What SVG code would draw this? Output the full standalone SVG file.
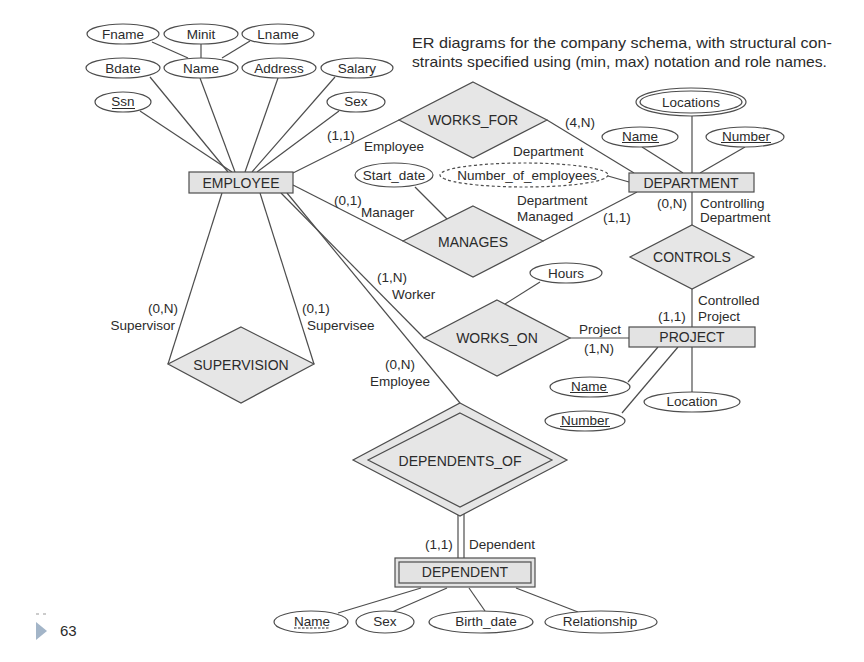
<svg xmlns="http://www.w3.org/2000/svg" width="864" height="662" viewBox="0 0 864 662">
<style>
.bg{fill:#ffffff}
.ln{stroke:#4d4d4d;stroke-width:1.2;fill:none}
.att{fill:#ffffff;stroke:#4d4d4d;stroke-width:1.2}
.ent{fill:#e3e3e3;stroke:#4d4d4d;stroke-width:1.2}
.rel{fill:#e6e6e6;stroke:#4d4d4d;stroke-width:1.2}
.ul{stroke:#2b2b2b;stroke-width:1}
text{font-family:"Liberation Sans",Arial,sans-serif;fill:#2b2b2b;dominant-baseline:central}
.t{font-size:13.5px;text-anchor:middle}
.n{font-size:14px;text-anchor:middle}
.l{font-size:13.5px;text-anchor:start}
.r{font-size:13.5px;text-anchor:end}
.h{font-size:15px;text-anchor:start}
</style>
<rect class="bg" x="0" y="0" width="864" height="662"/>

<g id="connectors">
<line class="ln" x1="152" y1="42" x2="188" y2="58"/>
<line class="ln" x1="201" y1="44" x2="201" y2="58"/>
<line class="ln" x1="250" y1="41" x2="222" y2="58"/>
<line class="ln" x1="150" y1="77" x2="228" y2="172"/>
<line class="ln" x1="200" y1="78" x2="235" y2="172"/>
<line class="ln" x1="278" y1="78" x2="245" y2="172"/>
<line class="ln" x1="335" y1="77" x2="252" y2="172"/>
<line class="ln" x1="140" y1="111" x2="232" y2="172"/>
<line class="ln" x1="339" y1="111" x2="257" y2="172"/>
<line class="ln" x1="293" y1="173" x2="399" y2="120"/>
<line class="ln" x1="547" y1="120" x2="634" y2="173"/>
<line class="ln" x1="293" y1="185" x2="403" y2="241"/>
<line class="ln" x1="543" y1="241" x2="637" y2="192"/>
<line class="ln" x1="415" y1="187" x2="447" y2="219"/>
<line class="ln" x1="608" y1="176" x2="629" y2="182"/>
<line class="ln" x1="692" y1="116" x2="692" y2="173"/>
<line class="ln" x1="642" y1="147" x2="683" y2="173"/>
<line class="ln" x1="745" y1="147" x2="700" y2="173"/>
<line class="ln" x1="692" y1="192" x2="692" y2="225"/>
<line class="ln" x1="692" y1="289" x2="692" y2="327"/>
<line class="ln" x1="540" y1="282" x2="505" y2="304"/>
<line class="ln" x1="570" y1="338" x2="629" y2="338"/>
<line class="ln" x1="281" y1="193" x2="424" y2="338"/>
<line class="ln" x1="222" y1="193" x2="168" y2="364"/>
<line class="ln" x1="260" y1="193" x2="314" y2="364"/>
<line class="ln" x1="287" y1="193" x2="460" y2="403"/>
<line class="ln" x1="458" y1="514" x2="458" y2="558"/>
<line class="ln" x1="464" y1="514" x2="464" y2="558"/>
<line class="ln" x1="628" y1="382" x2="658" y2="347"/>
<line class="ln" x1="622" y1="413" x2="678" y2="347"/>
<line class="ln" x1="692" y1="347" x2="692" y2="392"/>
<line class="ln" x1="421" y1="588" x2="338" y2="613"/>
<line class="ln" x1="447" y1="588" x2="392" y2="612"/>
<line class="ln" x1="469" y1="588" x2="485" y2="611"/>
<line class="ln" x1="516" y1="588" x2="578" y2="612"/>
</g>

<g id="caption">
<text class="h" x="412" y="42" textLength="420" lengthAdjust="spacingAndGlyphs">ER diagrams for the company schema, with structural con-</text>
<text class="h" x="412" y="61" textLength="415" lengthAdjust="spacingAndGlyphs">straints specified using (min, max) notation and role names.</text>
</g>

<g id="EMPLOYEE">
<rect class="ent" x="189" y="172" width="104" height="21"/>
<text class="n" x="241" y="183">EMPLOYEE</text>
</g>
<g id="Fname"><ellipse class="att" cx="123" cy="34" rx="36" ry="10"/><text class="t" x="123" y="34">Fname</text></g>
<g id="Minit"><ellipse class="att" cx="201" cy="34" rx="37" ry="10"/><text class="t" x="201" y="34">Minit</text></g>
<g id="Lname"><ellipse class="att" cx="278" cy="34" rx="36" ry="10"/><text class="t" x="278" y="34">Lname</text></g>
<g id="Bdate"><ellipse class="att" cx="123" cy="68" rx="37" ry="10"/><text class="t" x="123" y="68">Bdate</text></g>
<g id="EName"><ellipse class="att" cx="201" cy="68" rx="37" ry="10"/><text class="t" x="201" y="68">Name</text></g>
<g id="Address"><ellipse class="att" cx="279" cy="68" rx="37" ry="10"/><text class="t" x="279" y="68">Address</text></g>
<g id="Salary"><ellipse class="att" cx="357" cy="68" rx="36" ry="10"/><text class="t" x="357" y="68">Salary</text></g>
<g id="Ssn"><ellipse class="att" cx="123" cy="102" rx="28" ry="10"/><text class="t" x="123" y="101">Ssn</text><line class="ul" x1="112" y1="108.5" x2="135" y2="108.5"/></g>
<g id="ESex"><ellipse class="att" cx="356" cy="102" rx="29" ry="10"/><text class="t" x="356" y="101">Sex</text></g>

<g id="WORKS_FOR">
<polygon class="rel" points="473,82 547,120 473,158 399,120"/>
<text class="n" x="473" y="120">WORKS_FOR</text>
</g>
<g id="Start_date"><ellipse class="att" cx="394" cy="175" rx="39" ry="12"/><text class="t" x="394" y="175">Start_date</text></g>
<g id="Number_of_employees"><ellipse class="att" cx="524" cy="175" rx="84" ry="12" stroke-dasharray="3,2.5"/><text class="t" x="527" y="175">Number_of_employees</text></g>
<g id="MANAGES">
<polygon class="rel" points="473,206 543,241 473,277 403,241"/>
<text class="n" x="473" y="242">MANAGES</text>
</g>

<g id="DEPARTMENT">
<rect class="ent" x="629" y="173" width="125" height="19"/>
<text class="n" x="691" y="183">DEPARTMENT</text>
</g>
<g id="Locations"><ellipse class="att" cx="691" cy="102" rx="55" ry="14"/><ellipse class="att" cx="691" cy="102" rx="51" ry="11"/><text class="t" x="691" y="102">Locations</text></g>
<g id="DName"><ellipse class="att" cx="640" cy="137" rx="38" ry="10"/><text class="t" x="640" y="136">Name</text><line class="ul" x1="622" y1="142.5" x2="659" y2="142.5"/></g>
<g id="DNumber"><ellipse class="att" cx="745" cy="137" rx="39" ry="10"/><text class="t" x="746" y="136">Number</text><line class="ul" x1="721" y1="142.5" x2="771" y2="142.5"/></g>

<g id="CONTROLS">
<polygon class="rel" points="692,225 754,257 692,289 630,257"/>
<text class="n" x="692" y="257">CONTROLS</text>
</g>

<g id="PROJECT">
<rect class="ent" x="629" y="327" width="126" height="20"/>
<text class="n" x="692" y="337">PROJECT</text>
</g>
<g id="PName"><ellipse class="att" cx="590" cy="387" rx="40" ry="10"/><text class="t" x="589" y="386">Name</text><line class="ul" x1="570" y1="392.5" x2="608" y2="392.5"/></g>
<g id="PNumber"><ellipse class="att" cx="585" cy="421" rx="40" ry="10"/><text class="t" x="585" y="420">Number</text><line class="ul" x1="560" y1="426.5" x2="610" y2="426.5"/></g>
<g id="Location"><ellipse class="att" cx="692" cy="402" rx="48" ry="10"/><text class="t" x="692" y="401">Location</text></g>

<g id="WORKS_ON">
<polygon class="rel" points="497,300 570,338 497,376 424,338"/>
<text class="n" x="497" y="338">WORKS_ON</text>
</g>
<g id="Hours"><ellipse class="att" cx="566" cy="273" rx="36" ry="10"/><text class="t" x="566" y="273">Hours</text></g>

<g id="SUPERVISION">
<polygon class="rel" points="241,327 314,364 241,403 168,364"/>
<text class="n" x="241" y="365">SUPERVISION</text>
</g>

<g id="DEPENDENTS_OF">
<polygon class="rel" points="460,403 567,460 460,516 353,460"/>
<polygon class="rel" points="460,413 552,460 460,507 368,460"/>
<text class="n" x="460" y="461">DEPENDENTS_OF</text>
</g>

<g id="DEPENDENT">
<rect class="ent" x="395" y="558" width="140" height="29"/>
<rect class="ent" x="399" y="562" width="132" height="21"/>
<text class="n" x="465" y="572">DEPENDENT</text>
</g>
<g id="DName2"><ellipse class="att" cx="311" cy="622" rx="37" ry="11"/><text class="t" x="312" y="621">Name</text><line class="ul" x1="294" y1="628" x2="330" y2="628" stroke-dasharray="2.5,1.5"/></g>
<g id="DSex"><ellipse class="att" cx="385" cy="622" rx="29" ry="11"/><text class="t" x="385" y="621">Sex</text></g>
<g id="Birth_date"><ellipse class="att" cx="481" cy="622" rx="52" ry="11"/><text class="t" x="486" y="621">Birth_date</text></g>
<g id="Relationship"><ellipse class="att" cx="601" cy="622" rx="56" ry="11"/><text class="t" x="600" y="621">Relationship</text></g>

<g id="labels">
<text class="l" x="327" y="135">(1,1)</text>
<text class="l" x="364" y="146">Employee</text>
<text class="l" x="565" y="122">(4,N)</text>
<text class="l" x="513" y="151">Department</text>
<text class="l" x="334" y="200">(0,1)</text>
<text class="l" x="361" y="212">Manager</text>
<text class="l" x="517" y="200">Department</text>
<text class="l" x="517" y="216">Managed</text>
<text class="l" x="603" y="217">(1,1)</text>
<text class="l" x="657" y="203">(0,N)</text>
<text class="l" x="700" y="203">Controlling</text>
<text class="l" x="700" y="217">Department</text>
<text class="l" x="698" y="300">Controlled</text>
<text class="l" x="698" y="316">Project</text>
<text class="l" x="658" y="316">(1,1)</text>
<text class="t" x="600" y="329">Project</text>
<text class="t" x="599" y="348">(1,N)</text>
<text class="l" x="377" y="277">(1,N)</text>
<text class="l" x="392" y="294">Worker</text>
<text class="r" x="178" y="308">(0,N)</text>
<text class="r" x="175" y="325">Supervisor</text>
<text class="l" x="302" y="308">(0,1)</text>
<text class="l" x="307" y="325">Supervisee</text>
<text class="l" x="385" y="364">(0,N)</text>
<text class="l" x="370" y="381">Employee</text>
<text class="l" x="425" y="544">(1,1)</text>
<text class="l" x="469" y="544">Dependent</text>
</g>

<g id="page">
<line x1="36" y1="614" x2="46" y2="614" stroke="#999" stroke-width="1" stroke-dasharray="3,4"/>
<polygon points="36,622 47,631 36,640" fill="#a3b5c8"/>
<text x="60" y="630" style="font-size:15px;text-anchor:start">63</text>
</g>
</svg>
